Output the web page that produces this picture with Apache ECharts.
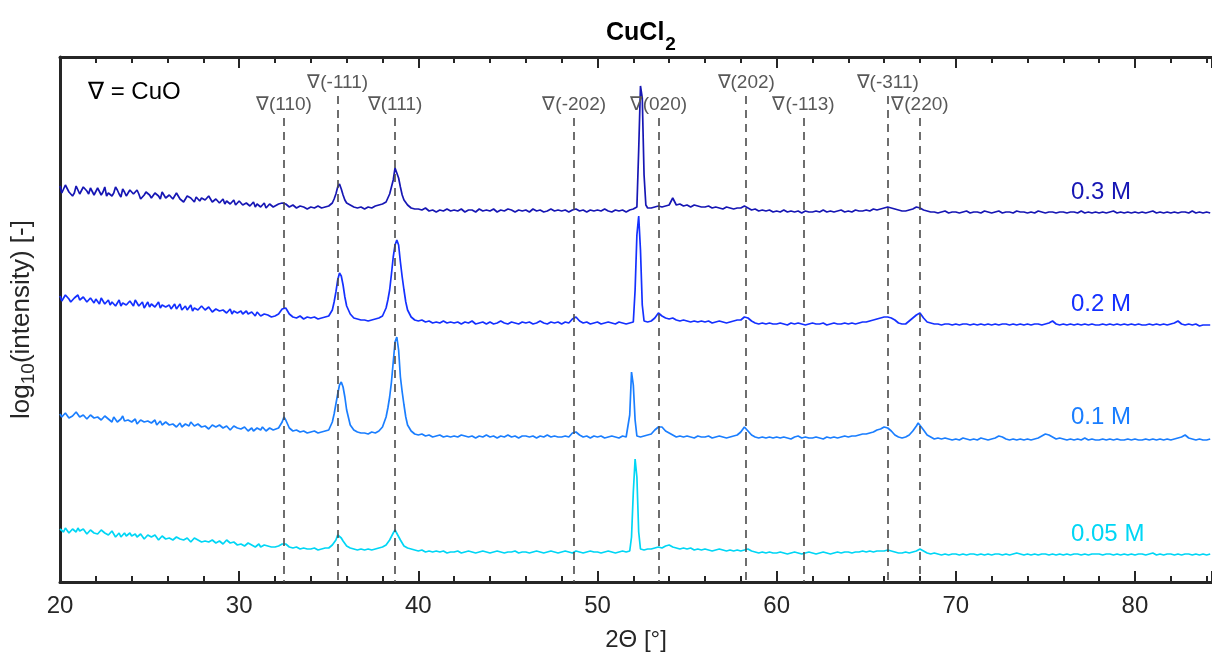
<!DOCTYPE html>
<html>
<head>
<meta charset="utf-8">
<script src="https://cdn.jsdelivr.net/npm/echarts@6/dist/echarts.min.js"></script>
<style>
  html, body { margin: 0; padding: 0; background: #fff; }
  #chart { width: 1212px; height: 659px; }
</style>
</head>
<body>
<div id="chart"></div>
<script>
// XRD scans of CuCl2-derived samples, log10 intensity with a vertical offset per sample.
// Main scans start at 20 deg with a 0.2 deg step; the low-angle range carries
// interleaved readings at the odd tenths, and extra points refine the peaks.
const scanStart = 20;
const scanStep = 0.2;
const midStart = 20.1;

// 0.3 M
const int03 = [
  3.96, 3.91, 3.95, 3.92, 3.89, 3.94, 3.90, 3.93, 3.88, 3.92, // 20
  3.88, 3.93, 3.90, 3.86, 3.91, 3.89, 3.92, 3.85, 3.90, 3.88, // 22
  3.91, 3.86, 3.88, 3.84, 3.90, 3.87, 3.85, 3.89, 3.83, 3.87, // 24
  3.84, 3.88, 3.82, 3.86, 3.85, 3.81, 3.87, 3.83, 3.85, 3.81, // 26
  3.85, 3.80, 3.83, 3.79, 3.84, 3.81, 3.78, 3.82, 3.80, 3.77, // 28
  3.81, 3.77, 3.79, 3.76, 3.80, 3.78, 3.75, 3.79, 3.76, 3.77, // 30
  3.76, 3.78, 3.79, 3.78, 3.75, 3.77, 3.74, 3.76, 3.75, 3.73, // 32
  3.75, 3.74, 3.76, 3.74, 3.75, 3.76, 3.79, 3.88, 3.98, 3.87, // 34
  3.79, 3.77, 3.75, 3.74, 3.75, 3.73, 3.75, 3.74, 3.76, 3.77, // 36
  3.78, 3.80, 3.88, 4.02, 4.12, 3.95, 3.82, 3.77, 3.74, 3.73, // 38
  3.73, 3.72, 3.74, 3.71, 3.72, 3.70, 3.72, 3.71, 3.73, 3.71, // 40
  3.72, 3.71, 3.73, 3.70, 3.72, 3.72, 3.70, 3.73, 3.71, 3.72, // 42
  3.71, 3.73, 3.70, 3.72, 3.71, 3.73, 3.72, 3.70, 3.72, 3.71, // 44
  3.72, 3.70, 3.73, 3.71, 3.72, 3.70, 3.71, 3.73, 3.71, 3.72, // 46
  3.71, 3.72, 3.70, 3.72, 3.73, 3.71, 3.72, 3.70, 3.72, 3.71, // 48
  3.72, 3.71, 3.73, 3.71, 3.70, 3.72, 3.71, 3.72, 3.70, 3.72, // 50
  3.73, 3.75, 4.96, 4.07, 3.74, 3.74, 3.75, 3.76, 3.75, 3.76, // 52
  3.77, 3.84, 3.77, 3.78, 3.76, 3.77, 3.75, 3.77, 3.76, 3.75, // 54
  3.75, 3.76, 3.74, 3.75, 3.74, 3.73, 3.75, 3.74, 3.73, 3.74, // 56
  3.74, 3.76, 3.74, 3.72, 3.73, 3.71, 3.72, 3.71, 3.72, 3.70, // 58
  3.71, 3.70, 3.72, 3.70, 3.71, 3.70, 3.71, 3.69, 3.71, 3.70, // 60
  3.70, 3.71, 3.70, 3.72, 3.70, 3.71, 3.70, 3.71, 3.72, 3.70, // 62
  3.71, 3.70, 3.72, 3.71, 3.71, 3.72, 3.71, 3.73, 3.72, 3.73, // 64
  3.74, 3.75, 3.74, 3.73, 3.72, 3.71, 3.71, 3.72, 3.73, 3.75, // 66
  3.74, 3.72, 3.71, 3.70, 3.70, 3.69, 3.70, 3.71, 3.69, 3.70, // 68
  3.70, 3.69, 3.70, 3.71, 3.69, 3.70, 3.70, 3.69, 3.71, 3.70, // 70
  3.69, 3.70, 3.71, 3.69, 3.70, 3.70, 3.69, 3.71, 3.70, 3.70, // 72
  3.69, 3.70, 3.69, 3.71, 3.70, 3.69, 3.70, 3.70, 3.69, 3.70, // 74
  3.70, 3.69, 3.70, 3.70, 3.69, 3.71, 3.69, 3.70, 3.69, 3.70, // 76
  3.69, 3.70, 3.69, 3.70, 3.71, 3.69, 3.70, 3.69, 3.70, 3.69, // 78
  3.70, 3.69, 3.70, 3.69, 3.70, 3.71, 3.69, 3.70, 3.69, 3.70, // 80
  3.69, 3.70, 3.69, 3.70, 3.70, 3.69, 3.71, 3.69, 3.70, 3.69, // 82
  3.70, 3.69                                                  // 84
];
const mid03 = [
  3.89, 3.97, 3.90, 3.86, 3.96, 3.88, 3.95, 3.91, 3.94, 3.87, // 20.1
  3.94, 3.87, 3.95, 3.89, 3.86, 3.95, 3.88, 3.93, 3.86, 3.92, // 22.1
  3.88, 3.92, 3.83, 3.87, 3.91, 3.84, 3.89, 3.86, 3.90, 3.84, // 24.1
  3.87, 3.83, 3.89, 3.83, 3.80, 3.86, 3.84, 3.80, 3.87, 3.84, // 26.1
  3.82, 3.86, 3.80, 3.83, 3.79, 3.83, 3.81, 3.78, 3.82, 3.79, // 28.1
  3.79, 3.76, 3.81, 3.78, 3.75, 3.80, 3.77, 3.74, 3.78, 3.75  // 30.1
];
const peaks03 = [
  [35.3, 3.83], [35.5, 3.95], [35.7, 3.93], [35.9, 3.82],
  [38.5, 3.95], [38.7, 4.14], [38.9, 4.04], [39.1, 3.87],
  [52.1, 3.72], [52.3, 4.32], [52.5, 4.84], [52.7, 3.77]
];

// 0.2 M
const int02 = [
  2.86, 2.82, 2.85, 2.80, 2.84, 2.87, 2.81, 2.83, 2.79, 2.82, // 20
  2.83, 2.78, 2.82, 2.80, 2.77, 2.81, 2.79, 2.76, 2.80, 2.78, // 22
  2.79, 2.82, 2.76, 2.80, 2.77, 2.75, 2.79, 2.77, 2.74, 2.78, // 24
  2.76, 2.73, 2.78, 2.75, 2.72, 2.76, 2.74, 2.71, 2.75, 2.73, // 26
  2.74, 2.70, 2.73, 2.71, 2.74, 2.69, 2.72, 2.70, 2.68, 2.71, // 28
  2.70, 2.68, 2.71, 2.67, 2.69, 2.70, 2.66, 2.68, 2.67, 2.65, // 30
  2.66, 2.68, 2.73, 2.74, 2.68, 2.65, 2.64, 2.66, 2.63, 2.65, // 32
  2.64, 2.65, 2.63, 2.64, 2.65, 2.66, 2.72, 2.90, 3.09, 2.97, // 34
  2.76, 2.68, 2.64, 2.63, 2.62, 2.62, 2.61, 2.62, 2.63, 2.64, // 36
  2.66, 2.74, 2.92, 3.25, 3.42, 3.20, 2.92, 2.72, 2.65, 2.62, // 38
  2.61, 2.62, 2.60, 2.61, 2.59, 2.60, 2.59, 2.61, 2.59, 2.60, // 40
  2.59, 2.60, 2.58, 2.60, 2.59, 2.61, 2.58, 2.59, 2.60, 2.58, // 42
  2.60, 2.58, 2.59, 2.61, 2.59, 2.58, 2.60, 2.59, 2.58, 2.60, // 44
  2.59, 2.60, 2.58, 2.59, 2.61, 2.59, 2.58, 2.60, 2.59, 2.60, // 46
  2.58, 2.60, 2.59, 2.63, 2.65, 2.61, 2.59, 2.60, 2.58, 2.59, // 48
  2.60, 2.58, 2.59, 2.60, 2.59, 2.58, 2.60, 2.59, 2.58, 2.59, // 50
  2.60, 3.47, 3.32, 2.61, 2.60, 2.61, 2.64, 2.69, 2.66, 2.64, // 52
  2.63, 2.64, 2.62, 2.61, 2.62, 2.61, 2.60, 2.61, 2.60, 2.61, // 54
  2.60, 2.61, 2.59, 2.60, 2.61, 2.60, 2.59, 2.60, 2.61, 2.62, // 56
  2.62, 2.65, 2.64, 2.61, 2.59, 2.58, 2.59, 2.58, 2.59, 2.58, // 58
  2.58, 2.59, 2.58, 2.57, 2.59, 2.58, 2.59, 2.58, 2.57, 2.58, // 60
  2.59, 2.58, 2.58, 2.59, 2.57, 2.58, 2.59, 2.58, 2.58, 2.59, // 62
  2.58, 2.59, 2.58, 2.59, 2.60, 2.60, 2.61, 2.62, 2.63, 2.64, // 64
  2.65, 2.65, 2.64, 2.62, 2.59, 2.58, 2.58, 2.61, 2.64, 2.67, // 66
  2.69, 2.64, 2.60, 2.59, 2.58, 2.58, 2.57, 2.58, 2.58, 2.57, // 68
  2.58, 2.57, 2.58, 2.58, 2.57, 2.58, 2.57, 2.58, 2.57, 2.58, // 70
  2.57, 2.58, 2.57, 2.58, 2.58, 2.57, 2.58, 2.57, 2.58, 2.57, // 72
  2.58, 2.57, 2.58, 2.58, 2.57, 2.58, 2.59, 2.61, 2.58, 2.57, // 74
  2.58, 2.57, 2.58, 2.57, 2.58, 2.57, 2.58, 2.57, 2.58, 2.57, // 76
  2.57, 2.58, 2.57, 2.58, 2.57, 2.58, 2.57, 2.58, 2.57, 2.58, // 78
  2.57, 2.58, 2.57, 2.57, 2.58, 2.57, 2.58, 2.57, 2.58, 2.57, // 80
  2.58, 2.59, 2.61, 2.58, 2.57, 2.58, 2.57, 2.58, 2.56, 2.57, // 82
  2.57, 2.57                                                  // 84
];
const mid02 = [
  2.81, 2.87, 2.83, 2.79, 2.86, 2.82, 2.85, 2.80, 2.84, 2.79, // 20.1
  2.81, 2.84, 2.78, 2.82, 2.80, 2.76, 2.82, 2.79, 2.77, 2.81, // 22.1
  2.76, 2.79, 2.78, 2.74, 2.80, 2.78, 2.75, 2.80, 2.77, 2.75, // 24.1
  2.77, 2.75, 2.73, 2.78, 2.74, 2.72, 2.77, 2.74, 2.72, 2.76, // 26.1
  2.72, 2.75, 2.70, 2.73, 2.71, 2.72, 2.69, 2.73, 2.71, 2.69, // 28.1
  2.71, 2.69, 2.68, 2.70, 2.66, 2.71, 2.68, 2.66, 2.69, 2.67  // 30.1
];
const peaks02 = [
  [32.5, 2.75],
  [35.3, 2.80], [35.5, 3.02], [35.7, 3.06], [35.9, 2.85],
  [38.3, 2.82], [38.5, 3.08], [38.7, 3.37], [38.9, 3.37], [39.1, 3.05], [39.3, 2.80],
  [52.1, 2.92], [52.3, 3.66], [52.5, 2.77],
  [67.9, 2.68], [68.1, 2.67]
];

// 0.1 M
const int01 = [
  1.68, 1.65, 1.67, 1.63, 1.66, 1.69, 1.64, 1.65, 1.62, 1.66, // 20
  1.63, 1.66, 1.61, 1.64, 1.62, 1.65, 1.60, 1.63, 1.61, 1.62, // 22
  1.60, 1.63, 1.59, 1.61, 1.58, 1.62, 1.60, 1.57, 1.61, 1.58, // 24
  1.58, 1.56, 1.59, 1.57, 1.55, 1.58, 1.56, 1.59, 1.55, 1.57, // 26
  1.55, 1.57, 1.54, 1.56, 1.53, 1.56, 1.54, 1.57, 1.53, 1.55, // 28
  1.54, 1.52, 1.55, 1.53, 1.51, 1.54, 1.52, 1.53, 1.51, 1.53, // 30
  1.52, 1.54, 1.60, 1.62, 1.54, 1.51, 1.52, 1.50, 1.51, 1.49, // 32
  1.50, 1.51, 1.49, 1.50, 1.51, 1.52, 1.60, 1.78, 1.97, 1.95, // 34
  1.72, 1.57, 1.52, 1.50, 1.49, 1.49, 1.48, 1.50, 1.49, 1.51, // 36
  1.55, 1.65, 1.85, 2.20, 2.45, 2.05, 1.77, 1.57, 1.51, 1.48, // 38
  1.47, 1.48, 1.46, 1.47, 1.45, 1.46, 1.47, 1.45, 1.46, 1.45, // 40
  1.46, 1.45, 1.47, 1.46, 1.45, 1.46, 1.44, 1.46, 1.45, 1.47, // 42
  1.45, 1.46, 1.44, 1.46, 1.45, 1.47, 1.45, 1.46, 1.44, 1.46, // 44
  1.46, 1.45, 1.46, 1.44, 1.46, 1.45, 1.47, 1.45, 1.46, 1.45, // 46
  1.45, 1.46, 1.45, 1.49, 1.50, 1.47, 1.45, 1.46, 1.44, 1.46, // 48
  1.45, 1.46, 1.44, 1.45, 1.46, 1.45, 1.44, 1.46, 1.45, 1.67, // 50
  1.97, 1.46, 1.45, 1.46, 1.47, 1.48, 1.52, 1.55, 1.55, 1.51, // 52
  1.49, 1.47, 1.45, 1.46, 1.45, 1.46, 1.45, 1.44, 1.46, 1.45, // 54
  1.45, 1.46, 1.44, 1.45, 1.46, 1.45, 1.44, 1.45, 1.46, 1.47, // 56
  1.50, 1.55, 1.51, 1.47, 1.45, 1.44, 1.45, 1.44, 1.45, 1.44, // 58
  1.45, 1.44, 1.45, 1.44, 1.43, 1.45, 1.46, 1.44, 1.45, 1.44, // 60
  1.44, 1.45, 1.44, 1.43, 1.45, 1.44, 1.45, 1.44, 1.45, 1.46, // 62
  1.45, 1.46, 1.46, 1.47, 1.48, 1.48, 1.49, 1.50, 1.52, 1.53, // 64
  1.55, 1.54, 1.51, 1.47, 1.45, 1.44, 1.45, 1.47, 1.51, 1.56, // 66
  1.58, 1.52, 1.47, 1.45, 1.43, 1.44, 1.43, 1.44, 1.43, 1.42, // 68
  1.43, 1.42, 1.44, 1.43, 1.42, 1.43, 1.42, 1.44, 1.43, 1.42, // 70
  1.43, 1.44, 1.46, 1.45, 1.43, 1.42, 1.43, 1.42, 1.43, 1.42, // 72
  1.43, 1.42, 1.43, 1.44, 1.46, 1.48, 1.47, 1.45, 1.43, 1.44, // 74
  1.43, 1.42, 1.43, 1.42, 1.43, 1.42, 1.44, 1.42, 1.43, 1.42, // 76
  1.42, 1.43, 1.42, 1.43, 1.42, 1.43, 1.42, 1.42, 1.43, 1.42, // 78
  1.43, 1.42, 1.42, 1.43, 1.42, 1.43, 1.42, 1.43, 1.42, 1.43, // 80
  1.42, 1.43, 1.44, 1.45, 1.47, 1.44, 1.43, 1.42, 1.43, 1.42, // 82
  1.42, 1.43                                                  // 84
];
const mid01 = [
  1.65, 1.69, 1.64, 1.66, 1.70, 1.65, 1.67, 1.63, 1.67, 1.64, // 20.1
  1.65, 1.62, 1.66, 1.63, 1.60, 1.64, 1.62, 1.66, 1.60, 1.64, // 22.1
  1.61, 1.58, 1.62, 1.60, 1.61, 1.59, 1.62, 1.59, 1.57, 1.60, // 24.1
  1.57, 1.58, 1.55, 1.59, 1.57, 1.56, 1.60, 1.56, 1.58, 1.55, // 26.1
  1.56, 1.53, 1.57, 1.55, 1.57, 1.54, 1.56, 1.52, 1.56, 1.54, // 28.1
  1.53, 1.55, 1.51, 1.54, 1.53, 1.52, 1.55, 1.51, 1.54, 1.52  // 30.1
];
const peaks01 = [
  [32.5, 1.65],
  [35.3, 1.68], [35.5, 1.88], [35.7, 2.00], [35.9, 1.85],
  [38.3, 1.74], [38.5, 2.00], [38.7, 2.40], [38.9, 2.32], [39.1, 1.90], [39.3, 1.65],
  [51.7, 1.46], [51.9, 2.10], [52.1, 1.62],
  [67.9, 1.59]
];

// 0.05 M
const int005 = [
  0.53, 0.50, 0.52, 0.48, 0.51, 0.54, 0.49, 0.51, 0.47, 0.50, // 20
  0.50, 0.47, 0.51, 0.48, 0.46, 0.50, 0.47, 0.45, 0.49, 0.47, // 22
  0.46, 0.48, 0.45, 0.47, 0.44, 0.46, 0.43, 0.46, 0.44, 0.45, // 24
  0.43, 0.45, 0.42, 0.44, 0.41, 0.43, 0.42, 0.40, 0.43, 0.41, // 26
  0.40, 0.42, 0.39, 0.41, 0.38, 0.40, 0.39, 0.41, 0.38, 0.39, // 28
  0.37, 0.39, 0.36, 0.38, 0.36, 0.37, 0.35, 0.37, 0.36, 0.35, // 30
  0.35, 0.36, 0.38, 0.38, 0.35, 0.34, 0.35, 0.33, 0.34, 0.33, // 32
  0.33, 0.34, 0.32, 0.33, 0.34, 0.34, 0.37, 0.42, 0.46, 0.41, // 34
  0.36, 0.34, 0.33, 0.32, 0.33, 0.32, 0.33, 0.32, 0.33, 0.34, // 36
  0.35, 0.37, 0.42, 0.49, 0.50, 0.42, 0.36, 0.34, 0.33, 0.32, // 38
  0.31, 0.32, 0.30, 0.31, 0.30, 0.31, 0.30, 0.31, 0.29, 0.30, // 40
  0.30, 0.31, 0.29, 0.30, 0.31, 0.30, 0.29, 0.30, 0.31, 0.30, // 42
  0.29, 0.30, 0.31, 0.30, 0.29, 0.30, 0.30, 0.31, 0.29, 0.30, // 44
  0.30, 0.29, 0.30, 0.31, 0.30, 0.29, 0.30, 0.31, 0.30, 0.29, // 46
  0.30, 0.31, 0.30, 0.29, 0.31, 0.30, 0.29, 0.30, 0.31, 0.30, // 48
  0.30, 0.29, 0.30, 0.31, 0.30, 0.29, 0.30, 0.31, 0.30, 0.31, // 50
  0.90, 1.05, 0.33, 0.32, 0.33, 0.33, 0.34, 0.35, 0.34, 0.36, // 52
  0.37, 0.35, 0.34, 0.33, 0.34, 0.33, 0.34, 0.32, 0.33, 0.32, // 54
  0.33, 0.32, 0.31, 0.32, 0.33, 0.32, 0.31, 0.32, 0.31, 0.32, // 56
  0.31, 0.32, 0.33, 0.31, 0.30, 0.29, 0.30, 0.29, 0.30, 0.29, // 58
  0.29, 0.30, 0.29, 0.28, 0.29, 0.30, 0.29, 0.28, 0.29, 0.30, // 60
  0.29, 0.28, 0.29, 0.30, 0.29, 0.28, 0.29, 0.30, 0.29, 0.30, // 62
  0.30, 0.29, 0.30, 0.30, 0.31, 0.30, 0.31, 0.30, 0.31, 0.31, // 64
  0.31, 0.32, 0.31, 0.30, 0.29, 0.29, 0.30, 0.29, 0.30, 0.31, // 66
  0.33, 0.31, 0.29, 0.28, 0.29, 0.28, 0.27, 0.28, 0.27, 0.28, // 68
  0.28, 0.27, 0.28, 0.27, 0.28, 0.28, 0.27, 0.28, 0.27, 0.28, // 70
  0.27, 0.28, 0.28, 0.27, 0.28, 0.27, 0.28, 0.29, 0.28, 0.27, // 72
  0.28, 0.27, 0.28, 0.27, 0.28, 0.28, 0.27, 0.28, 0.27, 0.28, // 74
  0.27, 0.28, 0.27, 0.28, 0.28, 0.27, 0.28, 0.27, 0.28, 0.28, // 76
  0.28, 0.27, 0.28, 0.28, 0.27, 0.28, 0.27, 0.28, 0.27, 0.28, // 78
  0.27, 0.28, 0.28, 0.27, 0.28, 0.29, 0.27, 0.28, 0.27, 0.28, // 80
  0.28, 0.27, 0.28, 0.27, 0.28, 0.28, 0.27, 0.28, 0.27, 0.28, // 82
  0.27, 0.28                                                  // 84
];
const mid005 = [
  0.51, 0.54, 0.49, 0.53, 0.50, 0.51, 0.53, 0.48, 0.52, 0.49, // 20.1
  0.48, 0.52, 0.49, 0.47, 0.51, 0.45, 0.49, 0.47, 0.46, 0.49, // 22.1
  0.47, 0.45, 0.48, 0.43, 0.47, 0.45, 0.47, 0.42, 0.46, 0.43, // 24.1
  0.44, 0.42, 0.45, 0.43, 0.42, 0.44, 0.40, 0.44, 0.42, 0.40, // 26.1
  0.41, 0.40, 0.42, 0.39, 0.41, 0.38, 0.42, 0.39, 0.40, 0.37, // 28.1
  0.38, 0.36, 0.39, 0.37, 0.35, 0.38, 0.36, 0.38, 0.35, 0.36  // 30.1
];
const peaks005 = [
  [35.5, 0.47], [35.7, 0.44],
  [38.7, 0.52],
  [51.9, 0.45], [52.1, 1.23], [52.3, 0.50]
];

// CuO reflections marked with dashed lines
const cuoAngles = [32.5, 35.5, 38.7, 48.7, 53.4, 58.3, 61.5, 66.2, 68.0];
const cuoLabels = ['∇(110)', '∇(-111)', '∇(111)', '∇(-202)', '∇(020)', '∇(202)', '∇(-113)', '∇(-311)', '∇(220)'];
const cuoRow = [2, 1, 2, 2, 2, 1, 2, 1, 2];

const sampleNames = ['0.3 M', '0.2 M', '0.1 M', '0.05 M'];
const sampleColors = ['#1616b4', '#1430ff', '#1a7eff', '#00d6f5'];

const xTicks = [20, 30, 40, 50, 60, 70, 80];

const FONT = "'Liberation Sans', Arial, Helvetica, sans-serif";
const INK = '#262626';

function buildScan(values, mids, extras) {
  const pts = values.map((v, i) => [+(scanStart + i * scanStep).toFixed(1), v]);
  const midPts = mids.map((v, i) => [+(midStart + i * scanStep).toFixed(1), v]);
  return pts.concat(midPts, extras).sort((a, b) => a[0] - b[0]);
}

const scans = [
  buildScan(int03, mid03, peaks03),
  buildScan(int02, mid02, peaks02),
  buildScan(int01, mid01, peaks01),
  buildScan(int005, mid005, peaks005)
];

// dashed reference lines: upper row labels sit higher, so their lines start higher
const lineTop = { 1: 4.86, 2: 4.64 };
const refLines = cuoAngles.map((a, i) => [
  { coord: [a, lineTop[cuoRow[i]]], name: cuoLabels[i] },
  { coord: [a, 0] }
]);

const chart = echarts.init(document.getElementById('chart'), null, { renderer: 'canvas' });

const xMin = xTicks[0];
const xMax = 84.3;

const series = scans.map((d, i) => ({
  name: sampleNames[i],
  type: 'line',
  data: d,
  showSymbol: false,
  symbol: 'none',
  silent: true,
  animation: false,
  z: 3,
  lineStyle: { color: sampleColors[i], width: 1.7 }
}));

series.push({
  type: 'line',
  data: [],
  silent: true,
  animation: false,
  z: 2,
  markLine: {
    silent: true,
    animation: false,
    symbol: ['none', 'none'],
    lineStyle: { color: '#4a4a4a', width: 1.6, type: [8, 6] },
    label: {
      show: true,
      position: 'start',
      distance: 4,
      formatter: p => p.name,
      color: '#595959',
      fontSize: 19,
      fontFamily: FONT
    },
    data: refLines
  }
});

const option = {
  backgroundColor: '#ffffff',
  animation: false,
  title: {
    text: '{a|CuCl}{b|2}',
    left: 601,
    top: 8,
    textStyle: {
      rich: {
        a: { fontSize: 25, fontWeight: 'bold', color: '#000', fontFamily: FONT, lineHeight: 28 },
        b: { fontSize: 19, fontWeight: 'bold', color: '#000', fontFamily: FONT, padding: [22, 0, 0, 1] }
      }
    }
  },
  grid: { left: 60, right: 0, top: 57, bottom: 77, containLabel: false },
  xAxis: [
    {
      type: 'value',
      position: 'bottom',
      min: xMin,
      max: xMax,
      interval: 10,
      name: '2Θ [°]',
      nameLocation: 'middle',
      nameGap: 46,
      nameTextStyle: { fontSize: 24, color: INK, fontFamily: FONT },
      axisLine: { show: true, onZero: false, lineStyle: { color: INK, width: 3 } },
      axisTick: { show: true, inside: true, length: 11, lineStyle: { color: INK, width: 2 } },
      minorTick: { show: true, splitNumber: 5, length: 6, lineStyle: { color: INK, width: 2 } },
      axisLabel: { show: true, fontSize: 24, color: INK, fontFamily: FONT, margin: 12, showMaxLabel: false },
      splitLine: { show: false }
    },
    {
      type: 'value',
      position: 'top',
      min: xMin,
      max: xMax,
      interval: 10,
      axisLine: { show: true, onZero: false, lineStyle: { color: INK, width: 3 } },
      axisTick: { show: true, inside: true, length: 11, lineStyle: { color: INK, width: 2 } },
      minorTick: { show: true, splitNumber: 5, length: 6, lineStyle: { color: INK, width: 2 } },
      axisLabel: { show: false },
      splitLine: { show: false }
    }
  ],
  yAxis: {
    type: 'value',
    min: 0,
    max: 5.25,
    name: '{t|log}{s|10}{t|(intensity) [-]}',
    nameLocation: 'middle',
    nameRotate: 90,
    nameGap: 22,
    nameTextStyle: {
      color: INK,
      rich: {
        t: { fontSize: 26, color: INK, fontFamily: FONT, lineHeight: 30 },
        s: { fontSize: 19, color: INK, fontFamily: FONT, padding: [13, 0, 0, 0] }
      }
    },
    axisLine: { show: true, onZero: false, lineStyle: { color: INK, width: 3 } },
    axisTick: { show: false },
    axisLabel: { show: false },
    splitLine: { show: false }
  },
  graphic: [
    {
      type: 'text',
      left: 88,
      top: 80,
      style: { text: '∇ = CuO', fontSize: 24, fill: '#000', fontFamily: FONT }
    },
    ...sampleNames.map((n, i) => ({
      type: 'text',
      left: 1071,
      top: [180, 292, 405, 522][i],
      style: { text: n, fontSize: 24, fill: sampleColors[i], fontFamily: FONT }
    }))
  ],
  series: series
};

chart.setOption(option);
</script>
</body>
</html>
